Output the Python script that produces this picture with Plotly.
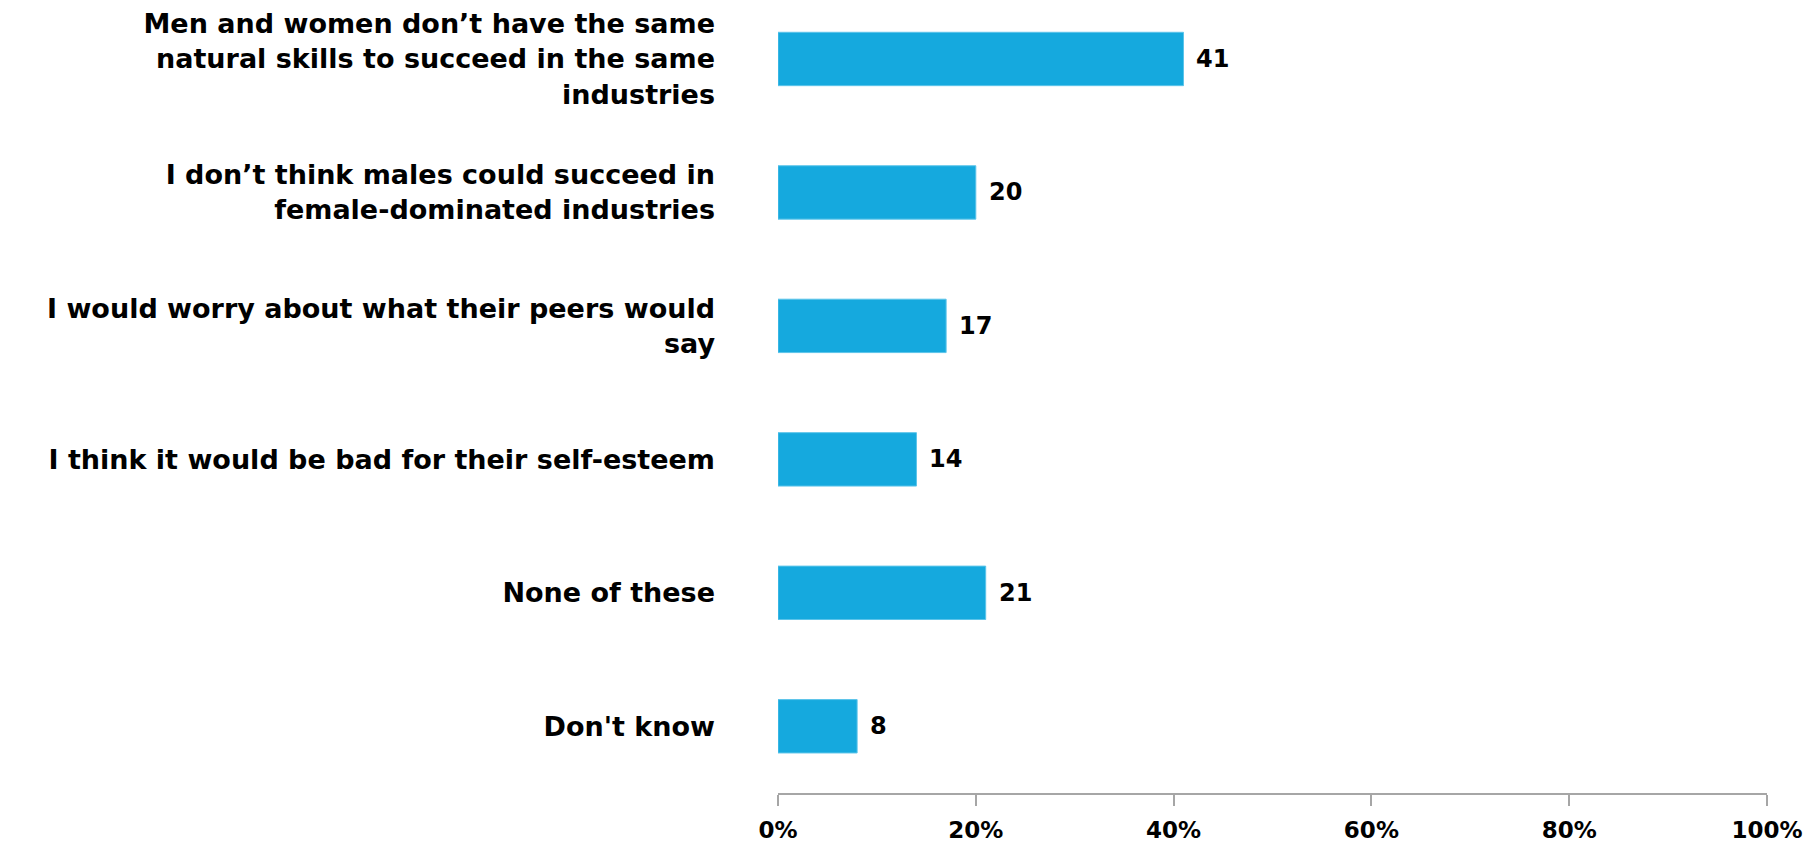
import plotly.graph_objects as go

categories = [
    "Men and women don’t have the same<br>natural skills to succeed in the same<br>industries",
    "I don’t think males could succeed in<br>female-dominated industries",
    "I would worry about what their peers would<br>say",
    "I think it would be bad for their self-esteem",
    "None of these",
    "Don't know",
]
values = [41, 20, 17, 14, 21, 8]
x_ticks = [0, 20, 40, 60, 80, 100]
x_tick_labels = ["0%", "20%", "40%", "60%", "80%", "100%"]

FONT = "DejaVu Sans"
BAR_COLOR = "#15A9DE"

fig = go.Figure()
fig.add_trace(go.Bar(
    x=values,
    y=categories,
    orientation="h",
    marker=dict(color=BAR_COLOR, line=dict(color="#5CC4EA", width=1)),
    width=0.4,
    hoverinfo="skip",
))

for v, c in zip(values, categories):
    fig.add_annotation(
        x=v, y=c, text=str(v), showarrow=False,
        xanchor="left", yanchor="middle", xshift=11,
        font=dict(family=FONT, size=24, color="#000000", weight="bold"),
    )

fig.update_layout(
    width=1804,
    height=837,
    margin=dict(l=770, r=45, t=0, b=52),
    paper_bgcolor="white",
    plot_bgcolor="white",
    showlegend=False,
    font=dict(family=FONT, color="#000000"),
)

fig.update_xaxes(
    range=[0, 100],
    tickvals=x_ticks,
    ticktext=x_tick_labels,
    showgrid=False,
    zeroline=False,
    showline=True,
    linecolor="#A6A6A6",
    linewidth=1.5,
    ticks="outside",
    ticklen=11,
    tickwidth=1.5,
    tickcolor="#A6A6A6",
    tickfont=dict(family=FONT, size=23, color="#000000", weight="bold"),
    ticklabelstandoff=5,
)

fig.update_yaxes(
    type="category",
    categoryorder="array",
    categoryarray=categories,
    range=[5.5, -0.367],
    showgrid=False,
    zeroline=False,
    showline=False,
    ticks="",
    tickfont=dict(family=FONT, size=27, color="#000000", weight="bold"),
    ticklabelstandoff=62,
)

fig.write_html("out.html")
